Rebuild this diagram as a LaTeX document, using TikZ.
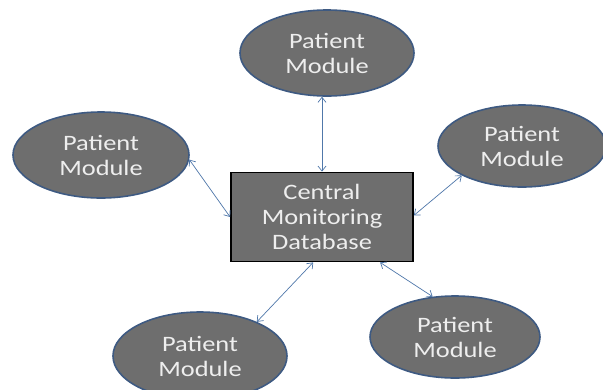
\documentclass[tikz,border=0pt]{standalone}
\usepackage{fontspec}
\setmainfont{Carlito}
\newfontfamily\widefont[FakeStretch=1.2]{Carlito}
\usetikzlibrary{shapes.geometric,arrows.meta}
\definecolor{modfill}{RGB}{110,110,110}
\definecolor{modedge}{RGB}{62,90,130}
\definecolor{arrowc}{RGB}{80,120,170}
\definecolor{txt}{RGB}{238,238,238}
\tikzset{
  module/.style={ellipse, draw=modedge, line width=1.6pt, fill=modfill, minimum width=#1, text=txt, font=\widefont\fontsize{22}{25}\selectfont, align=center, inner sep=0pt},
  module/.default=172pt,
  central/.style={rectangle, draw=black, line width=1.8pt, fill=modfill, text=txt, font=\widefont\fontsize{22}{25}\selectfont, align=center, minimum width=182pt, minimum height=89pt, inner sep=0pt},
  link/.style={draw=arrowc, line width=0.7pt, {Straight Barb[length=5pt,width=8pt]}-{Straight Barb[length=5pt,width=8pt]}}
}
\begin{document}
\begin{tikzpicture}[x=1pt,y=-1pt]
\fill[white] (0,0) rectangle (603,389);
\clip (0,0) rectangle (603,389);
\useasboundingbox (0,0) rectangle (603,389);
\node[central] (c) at (322,217) {Central\\Monitoring\\Database};
\node[module=174pt, minimum height=86pt] (t) at (327,53) {Patient\\Module};
\node[module=176pt, minimum height=86pt] (l) at (101,155) {Patient\\Module};
\node[module=168pt, minimum height=82pt] (r) at (522,146) {Patient\\Module};
\node[module=174pt, minimum height=88pt] (bl) at (200,356) {Patient\\Module};
\node[module=170pt, minimum height=82pt] (br) at (455,337) {Patient\\Module};
\draw[link] (c.north) -- (c.north |- t.south);
\draw[link] (l.-3) -- (c.west);
\draw[link] (r.206) -- (c.1);
\draw[link] (c.259) -- (bl.31);
\draw[link] (c.-38) -- (br.119);
\end{tikzpicture}
\end{document}
